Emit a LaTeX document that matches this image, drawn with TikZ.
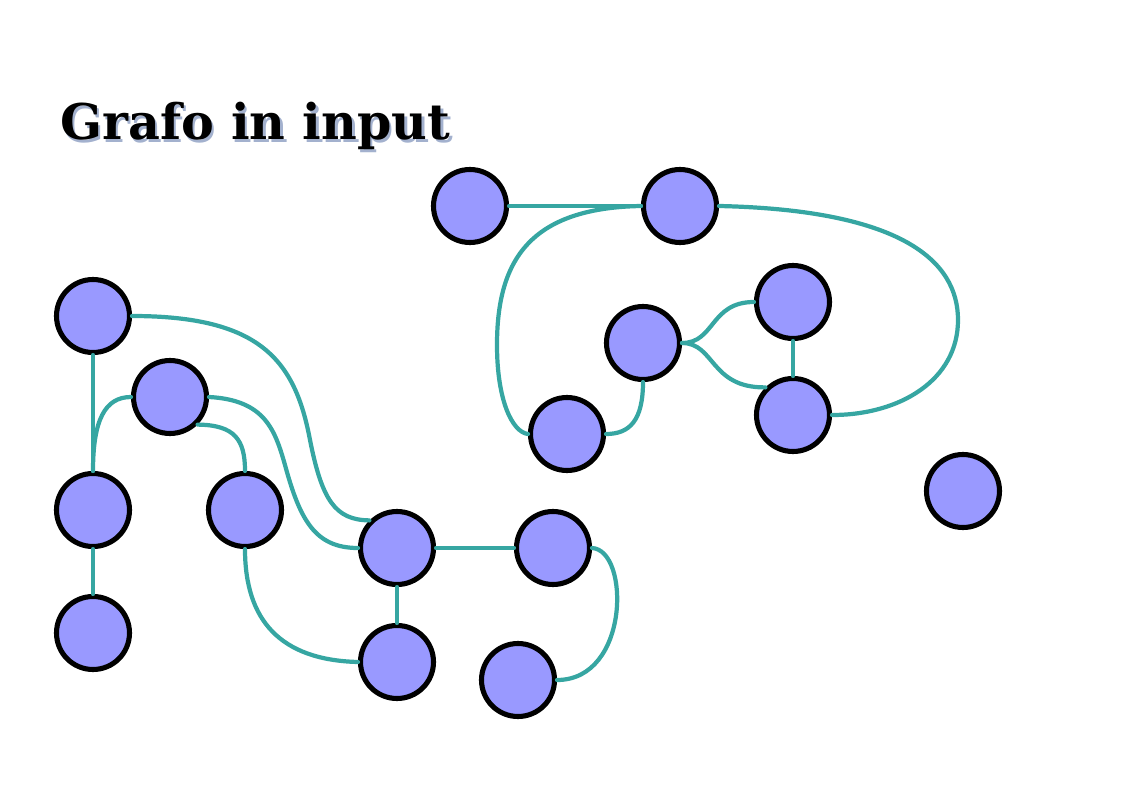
\documentclass[tikz,border=0pt]{standalone}
\usepackage{fontspec}
\newfontfamily\titlefont{DejaVu Serif}
\definecolor{vfill}{HTML}{9999FF}
\definecolor{teal}{HTML}{36A6A2}
\definecolor{shadowc}{HTML}{A3B1CE}
\usetikzlibrary{calc}
\newcommand{\shadowtext}[1]{\rlap{\hspace{1.5pt}\raisebox{-1.5pt}{\textcolor{shadowc}{#1}}}#1}

\begin{document}
\begin{tikzpicture}[x=0.02cm,y=-0.02cm,line cap=round,
	vertex/.style={circle,draw=black,fill=vfill,line width=2.9pt,minimum size=1.46cm,inner sep=0pt},
	link/.style={draw=teal,line width=2.4pt},
	title/.style={anchor=base west,inner sep=0pt,font=\titlefont\bfseries\fontsize{28}{33}\selectfont}]
	\useasboundingbox (0,0) rectangle (1123,794);
	% title with its shadow
	\node[title] (T) at (60,140) {\shadowtext{Grafo in input}};
	% vertices
	\node[vertex] (A) at (470,206) {};
	\node[vertex] (B) at (680,206) {};
	\node[vertex] (C) at (93,316) {};
	\node[vertex] (D) at (170,397) {};
	\node[vertex] (E) at (93,510) {};
	\node[vertex] (F) at (245,510) {};
	\node[vertex] (G) at (93,633) {};
	\node[vertex] (H) at (397,548) {};
	\node[vertex] (I) at (553,548) {};
	\node[vertex] (J) at (397,662) {};
	\node[vertex] (K) at (518,680) {};
	\node[vertex] (L) at (643,343) {};
	\node[vertex] (M) at (793,302) {};
	\node[vertex] (N) at (793,415) {};
	\node[vertex] (O) at (567,434) {};
	\node[vertex] (P) at (963,491) {};
	% edges
	\draw[link] (A.east) -- (B.west);
	\draw[link] (B.west) .. controls (530,208) and (497,260) .. (497,345) .. controls (497,400) and (512,432) .. (O.west);
	\draw[link] (B.east) .. controls (900,210) and (958,260) .. (958,320) .. controls (958,380) and (900,415) .. (N.east);
	\draw[link] (C.south) -- (E.north);
	\draw[link] (C.east) .. controls (260,316) and (295,360) .. (310,440) .. controls (322,500) and (335,520) .. (H.135);
	\draw[link] (D.east) .. controls (265,400) and (275,430) .. (285,465) .. controls (300,520) and (315,548) .. (H.west);
	\draw[link] (D.-45) .. controls (235,425) and (245,440) .. (F.north);
	\draw[link] (D.west) .. controls (105,397) and (93,420) .. (E.north);
	\draw[link] (E.south) -- (G.north);
	\draw[link] (F.south) .. controls (245,620) and (280,660) .. (J.west);
	\draw[link] (H.east) -- (I.west);
	\draw[link] (H.south) -- (J.north);
	\draw[link] (I.east) .. controls (630,550) and (630,680) .. (K.east);
	\draw[link] (L.east) .. controls (715,343) and (710,302) .. (M.west);
	\draw[link] (L.east) .. controls (715,343) and (710,388) .. (N.135);
	\draw[link] (M.south) -- (N.north);
	\draw[link] (L.south) .. controls (643,420) and (630,434) .. (O.east);
\end{tikzpicture}
\end{document}
